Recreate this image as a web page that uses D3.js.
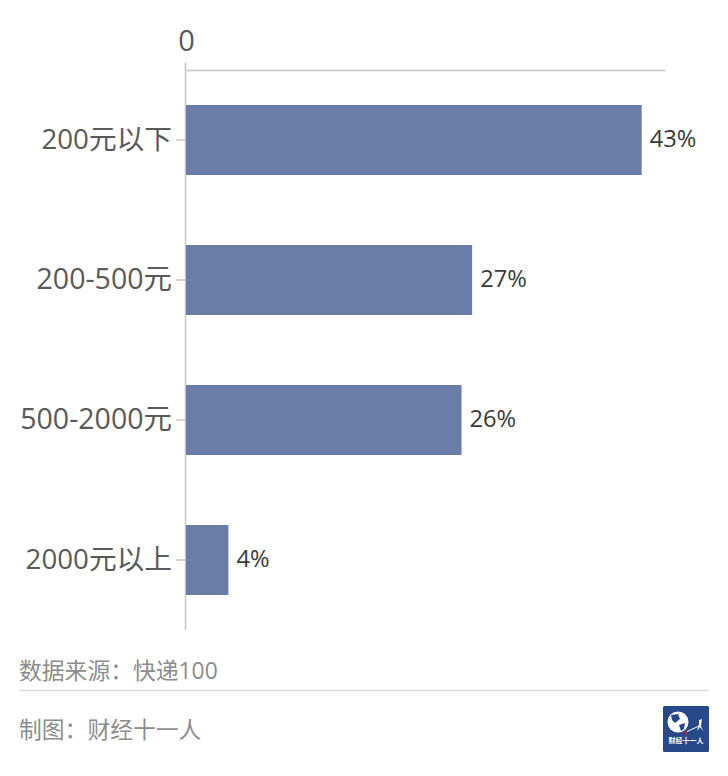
<!DOCTYPE html>
<html>
<head>
<meta charset="utf-8">
<script src="https://cdn.jsdelivr.net/npm/d3@7"></script>
<style>
  html, body { margin: 0; padding: 0; background: #fff; }
  svg { display: block; }
  text { font-family: "Open Sans", "Noto Sans CJK SC", sans-serif; }
</style>
</head>
<body>
<svg id="chart" width="728" height="776"></svg>
<script>
// Share of parcels by declared value
var categories = ["200元以下", "200-500元", "500-2000元", "2000元以上"];
var shares = [43, 27, 26, 4];
var xTicks = [0];
var sourceText = "数据来源：快递100";
var creditText = "制图：财经十一人";
var logoText = "财经十一人";

var svg = d3.select("#chart");

var x = d3.scaleLinear().domain([0, 45.2]).range([186, 665]);
var y = d3.scaleBand().domain(categories).range([70, 630]).paddingInner(0.5).paddingOuter(0.25);

// Top axis
var xAxis = svg.append("g")
  .attr("transform", "translate(0,70)")
  .call(d3.axisTop(x).tickValues(xTicks).tickSize(0).tickPadding(19));
xAxis.select(".domain").attr("stroke", "#c4c4c4").attr("stroke-width", 1.5);
xAxis.selectAll("text").attr("font-size", 29).attr("fill", "#595959");

// Left axis, runs a little above the top axis
var yAxis = svg.append("g")
  .attr("transform", "translate(185,0)")
  .call(d3.axisLeft(y).tickSize(9).tickSizeOuter(0).tickPadding(4));
yAxis.select(".domain")
  .attr("d", "M0.5," + (y.range()[0] - 8) + "V" + y.range()[1])
  .attr("stroke", "#c4c4c4").attr("stroke-width", 1.5);
yAxis.selectAll("line").attr("stroke", "#c4c4c4").attr("stroke-width", 1.5);
// the hyphen is narrower in this font, so those labels go slightly larger
yAxis.selectAll("text")
  .attr("font-size", function (d) { return d.indexOf("-") >= 0 ? 28.5 : 27.7; })
  .attr("fill", "#595959");

// Bars
svg.append("g").selectAll("rect")
  .data(shares)
  .join("rect")
  .attr("x", x(0))
  .attr("y", function (d, i) { return y(categories[i]); })
  .attr("width", function (d) { return x(d) - x(0); })
  .attr("height", y.bandwidth())
  .attr("fill", "#6a7da8");

// Value labels
svg.append("g").selectAll("text")
  .data(shares)
  .join("text")
  .attr("x", function (d) { return x(d) + 8; })
  .attr("y", function (d, i) { return y(categories[i]) + y.bandwidth() / 2 - 1; })
  .attr("dy", "0.35em")
  .attr("font-size", 23.7)
  .attr("fill", "#3a3a3a")
  .text(function (d) { return d + "%"; });

// Footer
svg.append("text")
  .attr("x", 19).attr("y", 679)
  .attr("font-size", 22.8).attr("fill", "#8c8c8c")
  .text(sourceText);
svg.append("line")
  .attr("x1", 19).attr("x2", 709).attr("y1", 690.5).attr("y2", 690.5)
  .attr("stroke", "#dcdcdc").attr("stroke-width", 1.5);
svg.append("text")
  .attr("x", 19).attr("y", 738)
  .attr("font-size", 22.8).attr("fill", "#8c8c8c")
  .text(creditText);

// Logo
var logo = svg.append("g").attr("transform", "translate(663,706)");
logo.append("rect").attr("width", 46).attr("height", 46).attr("rx", 1.5).attr("fill", "#27498a");
logo.append("circle").attr("cx", 15).attr("cy", 16).attr("r", 10.5).attr("fill", "#fff");
logo.append("path")
  .attr("d", "M8 9 L15 8 L17 13 L12 17 L9 14 Z M16 19 L22 17 L21 23 L18 25 Z")
  .attr("fill", "#27498a");
logo.append("path")
  .attr("d", "M23 26 L36 20")
  .attr("stroke", "#fff").attr("stroke-width", 1).attr("fill", "none");
logo.append("path")
  .attr("d", "M36 14 L39 13 L38 20 L40 25 L37 21 L34 25 L36 18 Z")
  .attr("fill", "#fff");
logo.append("rect").attr("x", 22).attr("y", 25).attr("width", 2).attr("height", 4).attr("fill", "#c8202f");
logo.append("text")
  .attr("x", 23).attr("y", 37)
  .attr("text-anchor", "middle")
  .attr("font-size", 7).attr("font-weight", "bold").attr("fill", "#fff")
  .text(logoText);
</script>
</body>
</html>
